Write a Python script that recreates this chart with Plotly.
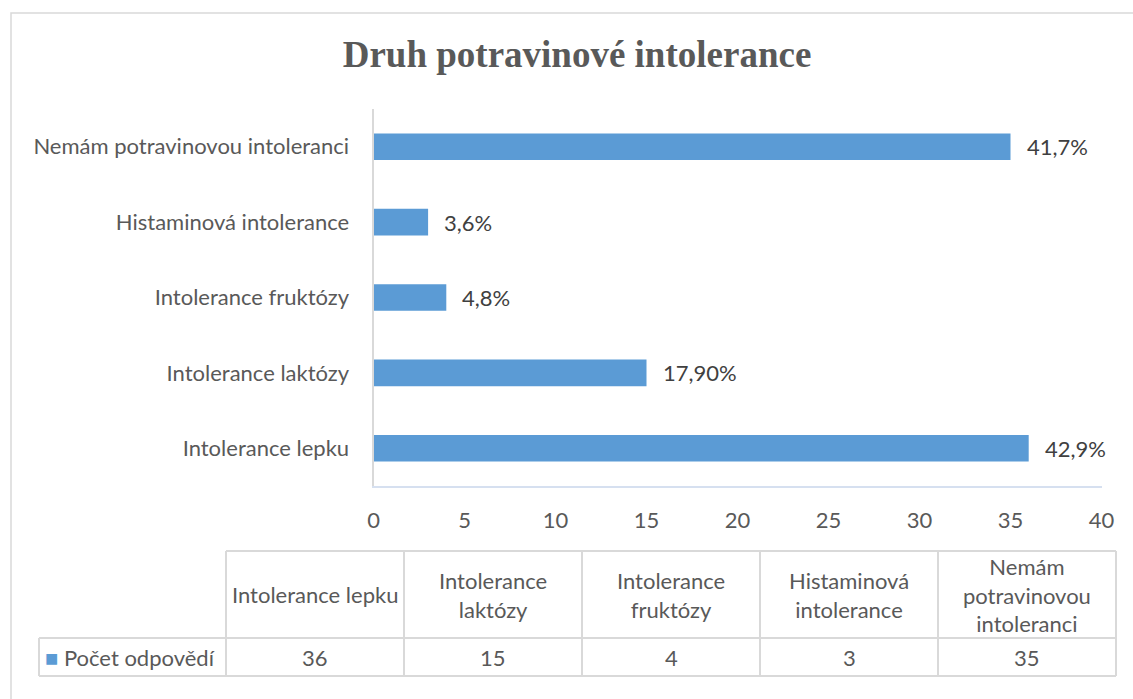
import plotly.graph_objects as go

W, H = 1133, 699

categories = ["Intolerance lepku", "Intolerance laktózy", "Intolerance fruktózy",
              "Histaminová intolerance", "Nemám potravinovou intoleranci"]
counts = [36, 15, 4, 3, 35]
pct_labels = ["42,9%", "17,90%", "4,8%", "3,6%", "41,7%"]
table_headers = ["Intolerance lepku", "Intolerance<br>laktózy", "Intolerance<br>fruktózy",
                 "Histaminová<br>intolerance", "Nemám<br>potravinovou<br>intoleranci"]
series_name = "Počet odpovědí"
x_ticks = [0, 5, 10, 15, 20, 25, 30, 35, 40]

BLUE = "#5B9BD5"
GREY_TXT = "#595959"
LINE = "#D9D9D9"
FONT = "Lato"
FS = 22


def px(x):
    return x / W


def py(y):
    return 1 - y / H


fig = go.Figure(go.Bar(
    x=counts, y=categories, orientation="h",
    marker=dict(color=BLUE, line_width=0),
    width=0.353, name=series_name, showlegend=False,
))

# percentage labels next to bars
for c, v, t in zip(categories, counts, pct_labels):
    fig.add_annotation(x=v, y=c, text=t, xref="x", yref="y", showarrow=False,
                       xanchor="left", xshift=14, font=dict(family=FONT, size=FS, color="#404040"))

# data table under the chart
col_l = 226
col_w = 178
leg_l = 39
row_top, row_mid, row_bot = 551, 638, 676
edges = [col_l + i * col_w for i in range(len(categories) + 1)]

shapes = []
def hline(x0, x1, y):
    shapes.append(dict(type="line", xref="paper", yref="paper", x0=px(x0), x1=px(x1),
                       y0=py(y), y1=py(y), line=dict(color=LINE, width=2)))
def vline(x, y0, y1):
    shapes.append(dict(type="line", xref="paper", yref="paper", x0=px(x), x1=px(x),
                       y0=py(y0), y1=py(y1), line=dict(color=LINE, width=2)))

hline(edges[0], edges[-1], row_top)
hline(leg_l, edges[-1], row_mid)
hline(leg_l, edges[-1], row_bot)
vline(leg_l, row_mid, row_bot)
for e in edges:
    vline(e, row_top, row_bot)

# outer chart frame
shapes.append(dict(type="rect", xref="paper", yref="paper", x0=px(11), x1=1.02, y0=-0.02, y1=py(13),
                   line=dict(color=LINE, width=1.5), layer="below"))

for i, (h, v) in enumerate(zip(table_headers, counts)):
    cx = (edges[i] + edges[i + 1]) / 2
    fig.add_annotation(x=px(cx), y=py((row_top + row_mid) / 2), xref="paper", yref="paper",
                       text=h, showarrow=False, align="center", xanchor="center", yanchor="middle",
                       font=dict(family=FONT, size=FS, color=GREY_TXT))
    fig.add_annotation(x=px(cx), y=py((row_mid + row_bot) / 2), xref="paper", yref="paper",
                       text=str(v), showarrow=False, xanchor="center", yanchor="middle",
                       font=dict(family=FONT, size=FS, color=GREY_TXT))

fig.add_annotation(x=px(leg_l + 4), y=py((row_mid + row_bot) / 2), xref="paper", yref="paper",
                   text=f"<span style='color:{BLUE}'>■</span> {series_name}", showarrow=False,
                   xanchor="left", yanchor="middle", font=dict(family=FONT, size=FS, color=GREY_TXT))

fig.update_layout(
    width=W, height=H,
    margin=dict(l=0, r=0, t=0, b=0, autoexpand=False),
    paper_bgcolor="white", plot_bgcolor="white",
    title=dict(text="<b>Druh potravinové intolerance</b>", x=px(577), xanchor="center",
               y=py(54), yanchor="middle",
               font=dict(family="Liberation Serif", size=37, color=GREY_TXT)),
    xaxis=dict(domain=[px(373.5), px(1101.5)], range=[0, 40], tickvals=x_ticks,
               showgrid=False, zeroline=False, showline=True, linecolor="#D6E0F0", linewidth=2,
               ticks="", ticklabelstandoff=14, automargin=False,
               tickfont=dict(family=FONT, size=FS, color=GREY_TXT)),
    yaxis=dict(domain=[py(486), py(109)], showgrid=False, showline=True, linecolor=LINE, linewidth=2,
               ticks="", ticklabelstandoff=18, automargin=False,
               tickfont=dict(family=FONT, size=FS, color=GREY_TXT)),
    shapes=shapes,
    bargap=0.647,
)

# page body has a default 8px margin; drop it so the figure sits at the window origin
fig.write_html("out.html", config={"displayModeBar": False},
               post_script="document.body.style.margin='0';document.body.style.overflow='hidden';")
